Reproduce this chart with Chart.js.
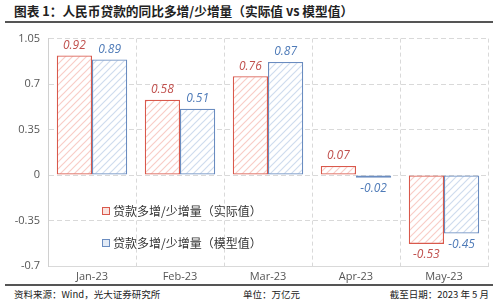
<!DOCTYPE html>
<html>
<head>
<meta charset="utf-8">
<script src="https://cdn.jsdelivr.net/npm/chart.js@4"></script>
<style>
    body { margin: 0; width: 500px; height: 303px; background: #fff; position: relative; overflow: hidden;
        font-family: "Noto Sans CJK SC", "Noto Sans", sans-serif; }
    .title { position: absolute; left: 14px; top: 1px; font-size: 12.7px; font-weight: bold; color: #222; }
    .rule { position: absolute; left: 5px; right: 7px; height: 1.5px; background: #555; }
    .foot { position: absolute; top: 287px; font-size: 9.5px; color: #222; }
    #chartBox { position: absolute; left: 0; top: 24px; width: 500px; height: 260px; }
</style>
</head>
<body>
<div class="title">图表 1：人民币贷款的同比多增/少增量（实际值 vs 模型值）</div>
<div class="rule" style="top:21px"></div>
<div id="chartBox"><canvas id="loanChart"></canvas></div>
<div class="rule" style="top:284px"></div>
<div class="foot" style="left:14px">资料来源：Wind，光大证券研究所</div>
<div class="foot" style="left:243px">单位：万亿元</div>
<div class="foot" style="right:11px">截至日期：2023 年 5 月</div>
<script>
const months = ['Jan-23', 'Feb-23', 'Mar-23', 'Apr-23', 'May-23'];
const actualValues = [0.92, 0.58, 0.76, 0.07, -0.53];
const modelValues = [0.89, 0.51, 0.87, -0.02, -0.45];
const yTicks = [1.05, 0.7, 0.35, 0, -0.35, -0.7];
const seriesNames = ['贷款多增/少增量（实际值）', '贷款多增/少增量（模型值）'];

const RED = '#d9594c';
const BLUE = '#6a8cc0';

function makeHatch(color) {
    const c = document.createElement('canvas');
    c.width = 7;
    c.height = 7;
    const g = c.getContext('2d');
    g.fillStyle = '#fff';
    g.fillRect(0, 0, 7, 7);
    g.strokeStyle = color;
    g.lineWidth = 1.2;
    g.beginPath();
    g.moveTo(0, 7); g.lineTo(7, 0);
    g.moveTo(-3.5, 3.5); g.lineTo(3.5, -3.5);
    g.moveTo(3.5, 10.5); g.lineTo(10.5, 3.5);
    g.stroke();
    return g.createPattern(c, 'repeat');
}

const labelPlugin = {
    id: 'barLabels',
    afterDatasetsDraw(chart) {
        const ctx = chart.ctx;
        ctx.save();
        ctx.font = 'italic 12px "Open Sans", sans-serif';
        ctx.textAlign = 'center';
        chart.data.datasets.forEach((ds, di) => {
            const meta = chart.getDatasetMeta(di);
            ctx.fillStyle = di === 0 ? '#c0504d' : '#4f7bb8';
            meta.data.forEach((bar, i) => {
                const v = ds.data[i];
                if (v >= 0) {
                    ctx.textBaseline = 'bottom';
                    ctx.fillText(v.toFixed(2), bar.x, bar.y - 4);
                } else {
                    ctx.textBaseline = 'top';
                    ctx.fillText(v.toFixed(2), bar.x, bar.y + 5);
                }
            });
        });
        // legend inside plot
        ctx.font = '12px "Noto Sans CJK SC", sans-serif';
        ctx.textAlign = 'left';
        ctx.textBaseline = 'middle';
        const lx = 102;
        const ly = [211 - 24, 243 - 24];
        seriesNames.forEach((name, i) => {
            ctx.fillStyle = i === 0 ? '#fbe3df' : '#e3ebf6';
            ctx.fillRect(lx, ly[i] - 4, 8, 8);
            ctx.strokeStyle = i === 0 ? RED : BLUE;
            ctx.lineWidth = 1;
            ctx.strokeRect(lx + 0.5, ly[i] - 3.5, 7, 7);
            ctx.fillStyle = '#333';
            ctx.fillText(name, lx + 11, ly[i]);
        });
        ctx.restore();
    }
};

const ctx = document.getElementById('loanChart').getContext('2d');
new Chart(ctx, {
    type: 'bar',
    data: {
        labels: months,
        datasets: [{
            label: seriesNames[0],
            data: actualValues,
            backgroundColor: makeHatch('#f8cdc7'),
            borderColor: RED,
            borderWidth: 1.3,
            borderSkipped: false,
            categoryPercentage: 0.8,
            barPercentage: 1
        }, {
            label: seriesNames[1],
            data: modelValues,
            backgroundColor: makeHatch('#cfdcee'),
            borderColor: BLUE,
            borderWidth: 1.3,
            borderSkipped: false,
            categoryPercentage: 0.8,
            barPercentage: 1
        }]
    },
    options: {
        responsive: true,
        maintainAspectRatio: false,
        animation: false,
        layout: { padding: { left: 0, right: 12, top: 12, bottom: 0 } },
        plugins: {
            legend: { display: false },
            tooltip: { enabled: false }
        },
        scales: {
            x: {
                grid: { color: '#d9d9d9', drawTicks: false, offset: true },
                border: { display: true, color: '#d9d9d9', dash: [4, 3] },
                ticks: { color: '#555', font: { size: 11, family: 'Open Sans' }, padding: 4 },
                afterFit(scale) { scale.height = 18; }
            },
            y: {
                min: -0.7,
                max: 1.05,
                afterBuildTicks(scale) { scale.ticks = yTicks.map(v => ({ value: v })); },
                grid: { color: '#d9d9d9', drawTicks: false },
                border: { display: true, color: '#d0d0d0', dash: [5, 3] },
                ticks: {
                    color: '#555',
                    font: { size: 11, family: 'Open Sans' },
                    padding: 8,
                    callback: v => String(v)
                },
                afterFit(scale) { scale.width = 48; }
            }
        }
    },
    plugins: [labelPlugin]
});
</script>
</body>
</html>
